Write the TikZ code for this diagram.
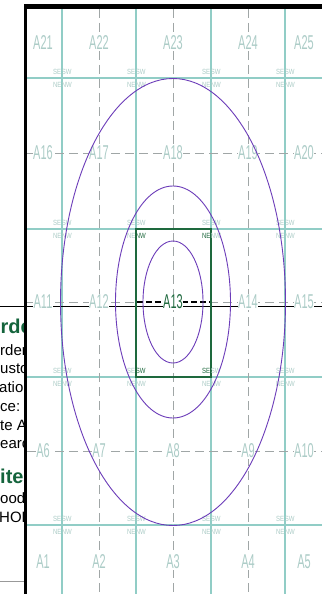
\documentclass[tikz,border=0pt]{standalone}
\usepackage{fontspec}
\setmainfont{Liberation Sans}
\definecolor{gridc}{RGB}{145,205,198}
\definecolor{labc}{RGB}{172,204,199}
\definecolor{dashc}{RGB}{160,166,166}
\definecolor{ellc}{RGB}{108,60,185}
\definecolor{boxc}{RGB}{30,105,62}
\definecolor{headc}{RGB}{20,100,60}
\begin{document}
\begin{tikzpicture}[x=1pt,y=-1pt,
  solidv/.style={draw=gridc,line width=1.8pt},
  solidh/.style={draw=gridc,line width=2.5pt},
  dashline/.style={draw=dashc,line width=1pt,dash pattern=on 9pt off 5pt},
  blackdash/.style={draw=black,line width=1.6pt,dash pattern=on 6pt off 3pt},
  ell/.style={draw=ellc,line width=0.9pt},
  cell/.style={font=\fontsize{20}{20}\selectfont,text=labc,xscale=0.55,inner sep=1pt,fill=white},
  corner/.style={font=\fontsize{7.5}{7.5}\selectfont,text=labc,xscale=0.8,inner sep=0pt},
  boxcorner/.style={corner,text=boxc},
  heading/.style={font=\bfseries\fontsize{20}{20}\selectfont,text=headc,inner sep=0pt,anchor=base west},
  body/.style={font=\fontsize{15}{15}\selectfont,text=black,inner sep=0pt,anchor=base west}]
\useasboundingbox (0,0) rectangle (322,594);
\fill[white] (0,0) rectangle (322,594);
% left panel fragments
\begin{scope}
\clip (0,0) rectangle (24.5,594);
\node[heading] (h1) at (0.5,333) {rde};
\node[body] (t1) at (0,355) {rder};
\node[body] (t2) at (0,373) {ustom};
\node[body] (t3) at (-1,392) {ation};
\node[body] (t4) at (0,411) {ce:};
\node[body] (t5) at (0,430) {te A};
\node[body] (t6) at (0,448) {earch};
\node[heading] (h2) at (0,483) {ite};
\node[body] (t7) at (0,503) {ood};
\node[body] (t8) at (-1,522) {HOR};
\coordinate (gl1) at (0,581);
\coordinate (gl2) at (25,581);
\draw[draw=gray!80,line width=0.8pt] (gl1) -- (gl2);
\end{scope}
% grid solid lines
\foreach \X in {62,136,211,285} {\draw[solidv] (\X,9) -- (\X,594);}
\foreach \Y in {78,229,377,525} {\draw[solidh] (27,\Y) -- (322,\Y);}
% centre lines
\foreach \X in {99,173,248} {\draw[dashline] (\X,9) -- (\X,594);}
\foreach \Y in {153,302,451} {\draw[dashline] (27,\Y) -- (322,\Y);}
% black line
\coordinate (bl1) at (0,306);
\coordinate (bl2) at (322,306);
\draw[black,line width=0.9pt] (bl1) -- (bl2);
% box
\coordinate (b1) at (136,229);
\coordinate (b2) at (211,377);
\fill[white] (137.5,298) rectangle (209.5,305.2);
\draw[blackdash] (137,302) -- (210,302);
\draw[draw=boxc,line width=2.2pt] (b1) rectangle (b2);
% cell labels
\foreach \r/\yy in {0/562,1/451,2/302,3/153,4/43} {
  \foreach \c/\xx in {1/43,2/99,3/173,4/248,5/304} {
    \pgfmathtruncatemacro\n{5*\r+\c}
    \ifnum\n=13
      \node[cell,text=boxc] (L\n) at (\xx,\yy) {A\n};
    \else
      \node[cell] (L\n) at (\xx,\yy) {A\n};
    \fi
  }
}
% corner labels
\foreach \X in {62,136,211,285} {
  \foreach \Y in {78,229,377,525} {
    \ifnum\numexpr\X*1000+\Y\relax=211377 \else \node[corner] (se-\X-\Y) at (\X-4.8,\Y-6) {SE};\fi
    \ifnum\numexpr\X*1000+\Y\relax=136377 \else \node[corner] (sw-\X-\Y) at (\X+4.8,\Y-6) {SW};\fi
    \ifnum\numexpr\X*1000+\Y\relax=211229 \else \node[corner] (ne-\X-\Y) at (\X-4.8,\Y+7) {NE};\fi
    \ifnum\numexpr\X*1000+\Y\relax=136229 \else \node[corner] (nw-\X-\Y) at (\X+4.8,\Y+7) {NW};\fi
  }
}
\node[boxcorner] (bnw) at (136+4.8,229+7) {NW};
\node[boxcorner] (bne) at (211-4.8,229+7) {NE};
\node[boxcorner] (bsw) at (136+4.8,377-6) {SW};
\node[boxcorner] (bse) at (211-4.8,377-6) {SE};
% ellipses
\coordinate (ec) at (173,302);
\draw[ell] (ec) ellipse [x radius=112.5, y radius=223.5];
\draw[ell] (ec) ellipse [x radius=57.5, y radius=116];
\draw[ell] (ec) ellipse [x radius=30, y radius=61];
% frame
\fill[black] (24,4) rectangle (322,9);
\fill[black] (24,4) rectangle (27,594);
\end{tikzpicture}
\end{document}
